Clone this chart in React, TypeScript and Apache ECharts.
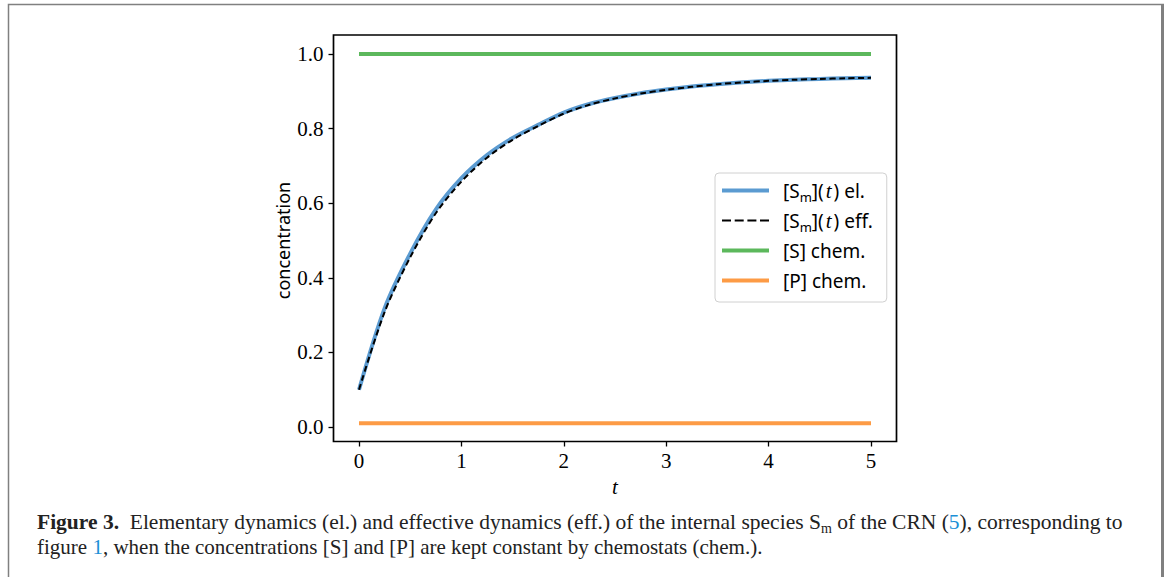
import React, { useEffect, useRef } from "react";
import * as echarts from "echarts";

// time grid (t) and concentrations
const T = [0, 0.25, 0.5, 0.75, 1, 1.25, 1.5, 1.75, 2, 2.25, 2.5, 2.75, 3, 3.25, 3.5, 3.75, 4, 4.25, 4.5, 4.75, 5];
const SM_EL = [0.100, 0.318, 0.465, 0.583, 0.667, 0.729, 0.775, 0.810, 0.843, 0.866, 0.882, 0.895, 0.905, 0.913, 0.919, 0.924, 0.928, 0.931, 0.933, 0.935, 0.936];
const SM_EFF = [0.100, 0.308, 0.455, 0.573, 0.658, 0.722, 0.770, 0.807, 0.840, 0.864, 0.881, 0.894, 0.904, 0.912, 0.919, 0.924, 0.928, 0.931, 0.933, 0.935, 0.936];
const T_CHEM = [0, 5];
const S_CHEM = [1.0, 1.0];
const P_CHEM = [0.01, 0.01];

const X_MIN = 0, X_MAX = 5, X_STEP = 1;
const Y_MIN = 0, Y_MAX = 1, Y_STEP = 0.2;

const SERIES_NAMES = ["[Sm](t) el.", "[Sm](t) eff.", "[S] chem.", "[P] chem."];
const LEGEND_RICH_TEXT: Record<string, string> = {
  "[Sm](t) el.": "{a|[S}{sub|m}{a|](}{it|t}{a|) el.}",
  "[Sm](t) eff.": "{a|[S}{sub|m}{a|](}{it|t}{a|) eff.}",
  "[S] chem.": "{a|[S] chem.}",
  "[P] chem.": "{a|[P] chem.}",
};

const CAPTION_1 =
  "{b|Figure 3.}{s|  }Elementary dynamics (el.) and effective dynamics (eff.) of the internal species S{sub|m} of the CRN ({l|5}), corresponding to";
const CAPTION_2 =
  "figure {l|1}, when the concentrations [S] and [P] are kept constant by chemostats (chem.).";

const pairs = (xs: number[], ys: number[]) => xs.map((x, i) => [x, ys[i]]);

// legend icon shapes (solid bar / dashed bar), 47 x 4 box
const SOLID_ICON = "path://M0,0H47V4H0Z";
const DASH_ICON =
  "path://M0,0H0.01V0.01H0Z M0,4H0.01V3.99H0Z M0,1H9V3H0Z M12.7,1H21.7V3H12.7Z M25.4,1H34.4V3H25.4Z M38,1H47V3H38Z";

export default function App() {
  const ref = useRef<HTMLDivElement>(null);
  useEffect(() => {
    const chart = echarts.init(ref.current!, null, { renderer: "svg" });
    const serif = "'Liberation Serif', 'DejaVu Serif', serif";
    const sans = "'Noto Sans', 'DejaVu Sans', sans-serif";
    const BLUE = "#5b9bd1";
    const GREEN = "#5cb85c";
    const ORANGE = "#fd9b45";

    chart.setOption({
      animation: false,
      backgroundColor: "#ffffff",
      grid: { left: 359, right: 296, top: 54, bottom: 150, containLabel: false },
      xAxis: {
        type: "value",
        min: X_MIN,
        max: X_MAX,
        interval: X_STEP,
        offset: 14.5,
        axisLine: { show: false, onZero: false },
        axisTick: { show: true, length: 5, lineStyle: { color: "#000", width: 1.3 } },
        splitLine: { show: false },
        axisLabel: {
          margin: 9,
          fontFamily: serif,
          fontSize: 21,
          color: "#000",
          formatter: (v: number) => String(v),
        },
        name: "t",
        nameLocation: "middle",
        nameGap: 34,
        nameTextStyle: { fontFamily: serif, fontStyle: "italic", fontSize: 21, color: "#000" },
      },
      yAxis: {
        type: "value",
        min: Y_MIN,
        max: Y_MAX,
        interval: Y_STEP,
        offset: 25.5,
        axisLine: { show: false, onZero: false },
        axisTick: { show: true, length: 5, lineStyle: { color: "#000", width: 1.3 } },
        splitLine: { show: false },
        axisLabel: {
          margin: 10,
          fontFamily: serif,
          fontSize: 21,
          color: "#000",
          formatter: (v: number) => v.toFixed(1),
        },
        name: "concentration",
        nameLocation: "middle",
        nameGap: 42,
        nameRotate: 90,
        nameTextStyle: { fontFamily: sans, fontSize: 18, color: "#000" },
      },
      legend: {
        orient: "vertical",
        left: 715,
        top: 173,
        padding: [5, 14, 9, 7],
        itemWidth: 47,
        itemHeight: 4,
        itemGap: 5,
        backgroundColor: "#ffffff",
        borderColor: "#d0d0d0",
        borderWidth: 1,
        borderRadius: 4,
        data: [
          { name: SERIES_NAMES[0], icon: SOLID_ICON },
          { name: SERIES_NAMES[1], icon: DASH_ICON },
          { name: SERIES_NAMES[2], icon: SOLID_ICON },
          { name: SERIES_NAMES[3], icon: SOLID_ICON },
        ],
        formatter: (name: string) => LEGEND_RICH_TEXT[name],
        textStyle: {
          padding: [0, 0, 0, 9],
          lineHeight: 25,
          rich: {
            a: { fontFamily: sans, fontSize: 19, color: "#000", lineHeight: 25 },
            sub: { fontFamily: sans, fontSize: 13, color: "#000", lineHeight: 17, verticalAlign: "bottom" },
            it: { fontFamily: serif, fontStyle: "italic", fontSize: 21, color: "#000", lineHeight: 25, padding: [0, 2, 0, 2] },
          },
        },
      },
      series: [
        {
          name: SERIES_NAMES[0],
          type: "line",
          data: pairs(T, SM_EL),
          smooth: 0.3,
          symbol: "none",
          lineStyle: { color: BLUE, width: 4 },
          itemStyle: { color: BLUE },
          z: 2,
        },
        {
          name: SERIES_NAMES[1],
          type: "line",
          data: pairs(T, SM_EFF),
          smooth: 0.3,
          symbol: "none",
          lineStyle: { color: "#000", width: 2, type: [6, 3.5] },
          itemStyle: { color: "#000" },
          z: 3,
        },
        {
          name: SERIES_NAMES[2],
          type: "line",
          data: pairs(T_CHEM, S_CHEM),
          symbol: "none",
          lineStyle: { color: GREEN, width: 4 },
          itemStyle: { color: GREEN },
          z: 2,
        },
        {
          name: SERIES_NAMES[3],
          type: "line",
          data: pairs(T_CHEM, P_CHEM),
          symbol: "none",
          lineStyle: { color: ORANGE, width: 4 },
          itemStyle: { color: ORANGE },
          z: 2,
        },
      ],
      graphic: [
        {
          type: "polyline",
          shape: { points: [[8.5, 577], [8.5, 4.5], [1161, 4.5]] },
          style: { stroke: "#808080", lineWidth: 1.5, fill: "none" },
          silent: true,
        },
        {
          type: "line",
          shape: { x1: 1162.5, y1: 3.8, x2: 1162.5, y2: 577 },
          style: { stroke: "#808080", lineWidth: 3 },
          silent: true,
        },
        {
          type: "rect",
          shape: { x: 333.5, y: 35, width: 563, height: 406.5 },
          style: { stroke: "#000", lineWidth: 1.7, fill: "none" },
          silent: true,
          z: 10,
        },
        {
          type: "text",
          x: 37,
          y: 522,
          style: {
            text: CAPTION_1,
            fontFamily: serif,
            fontSize: 21.5,
            fill: "#222",
            verticalAlign: "middle",
            rich: {
              b: { fontFamily: serif, fontSize: 21.5, fontWeight: "bold", fill: "#222", lineHeight: 26 },
              s: { fontFamily: serif, fontSize: 21.5, lineHeight: 26 },
              sub: { fontFamily: serif, fontSize: 14, fill: "#222", lineHeight: 19, verticalAlign: "bottom" },
              l: { fontFamily: serif, fontSize: 21.5, fill: "#1c8fd6", lineHeight: 26 },
            },
          },
          silent: true,
        },
        {
          type: "text",
          x: 37,
          y: 547,
          style: {
            text: CAPTION_2,
            fontFamily: serif,
            fontSize: 21,
            fill: "#222",
            verticalAlign: "middle",
            rich: {
              l: { fontFamily: serif, fontSize: 21, fill: "#1c8fd6", lineHeight: 26 },
            },
          },
          silent: true,
        },
      ],
    });
    return () => chart.dispose();
  }, []);
  return (
    <div
      ref={ref}
      style={{ position: "absolute", left: 0, top: 0, width: 1167, height: 577 }}
    />
  );
}
